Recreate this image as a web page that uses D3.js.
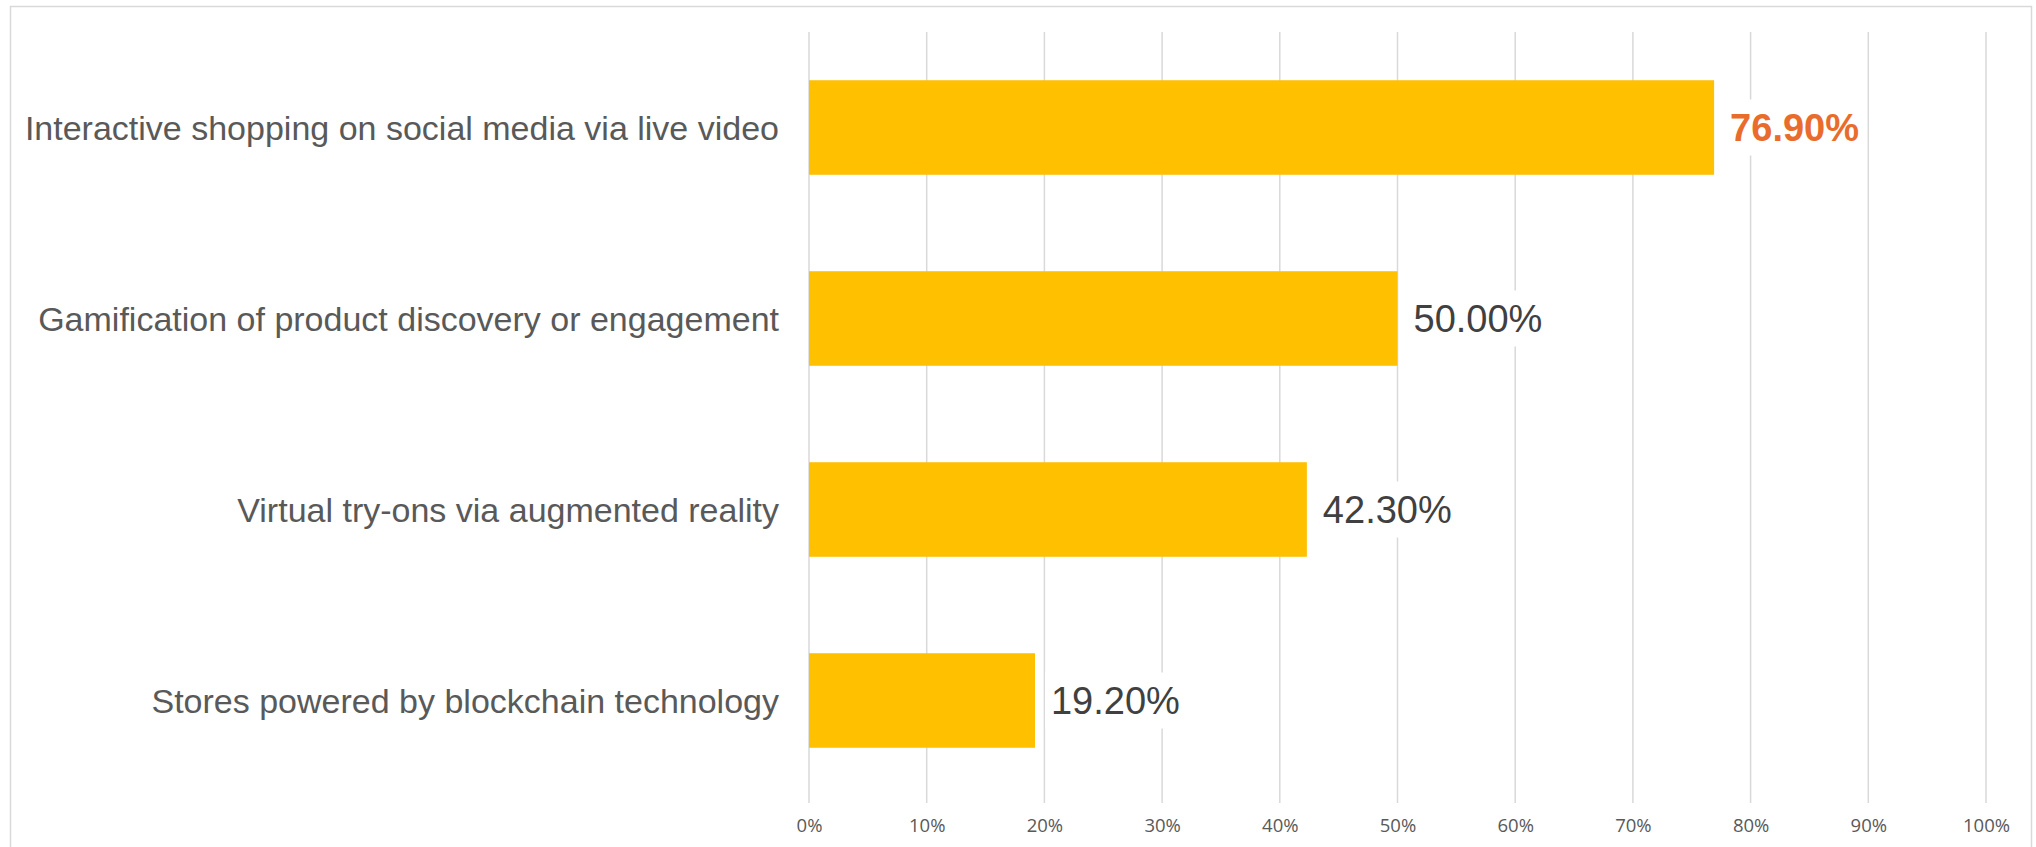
<!DOCTYPE html>
<html>
<head>
<meta charset="utf-8">
<script src="https://cdn.jsdelivr.net/npm/d3@7"></script>
<style>
  html, body { margin: 0; padding: 0; background: #ffffff; }
  svg { display: block; }
</style>
</head>
<body>
<script>
// Categories, top to bottom, and their shares (%)
const categories = [
  "Interactive shopping on social media via live video",
  "Gamification of product discovery or engagement",
  "Virtual try-ons via augmented reality",
  "Stores powered by blockchain technology"
];
const values = [76.9, 50.0, 42.3, 19.2];
const highlighted = [true, false, false, false];
const tickValues = [0, 10, 20, 30, 40, 50, 60, 70, 80, 90, 100];

const W = 2036, H = 847;
const svg = d3.select("body").append("svg")
  .attr("width", W).attr("height", H);

// frame
svg.append("rect")
  .attr("x", 10.5).attr("y", 6.5)
  .attr("width", 2021).attr("height", 850)
  .attr("fill", "#ffffff")
  .attr("stroke", "#d9d9d9").attr("stroke-width", 1.5);

const x = d3.scaleLinear().domain([0, 100]).range([809, 1986]);
const y = d3.scaleBand().domain(categories).range([32, 796]).paddingInner(0.505).paddingOuter(0.2525);

// vertical gridlines
svg.append("g").selectAll("line").data(tickValues).join("line")
  .attr("x1", d => x(d)).attr("x2", d => x(d))
  .attr("y1", 32).attr("y2", 803)
  .attr("stroke", "#d9d9d9").attr("stroke-width", 1.5);

// x-axis tick labels
const xAxis = d3.axisBottom(x).tickValues(tickValues).tickSize(0).tickFormat(d => d + "%");
const gx = svg.append("g").attr("transform", "translate(0,812)").call(xAxis);
gx.select(".domain").remove();
gx.selectAll("text")
  .attr("dy", 0).attr("y", 12)
  .attr("dominant-baseline", "central")
  .style("font-family", "'Open Sans', sans-serif")
  .style("font-size", "18.5px")
  .style("fill", "#595959");

// category labels
const yAxis = d3.axisLeft(y).tickSize(0).tickPadding(0);
const gy = svg.append("g").attr("transform", "translate(779,0)").call(yAxis);
gy.select(".domain").remove();
gy.selectAll("text")
  .attr("dy", 0).attr("x", 0)
  .attr("dominant-baseline", "central")
  .style("font-family", "'Liberation Sans', Arial, sans-serif")
  .style("font-size", "34px")
  .style("fill", "#595959");

// bars
svg.append("g").selectAll("rect").data(categories).join("rect")
  .attr("x", x(0))
  .attr("y", d => y(d))
  .attr("width", (d, i) => x(values[i]) - x(0))
  .attr("height", y.bandwidth())
  .attr("fill", "#FFC000");

// value labels with white backing
const labels = svg.append("g").selectAll("g").data(categories).join("g")
  .attr("transform", (d, i) => `translate(${x(values[i]) + 16},${y(d) + y.bandwidth() / 2})`);

const labelText = labels.append("text")
  .attr("dominant-baseline", "central")
  .style("font-family", "'Liberation Sans', Arial, sans-serif")
  .style("font-size", "38px")
  .style("font-weight", (d, i) => highlighted[i] ? "bold" : "normal")
  .style("fill", (d, i) => highlighted[i] ? "#E96C2C" : "#404040")
  .text((d, i) => values[i].toFixed(2) + "%");

labels.each(function () {
  const g = d3.select(this);
  const bb = g.select("text").node().getBBox();
  g.insert("rect", "text")
    .attr("x", bb.x - 6).attr("y", -28)
    .attr("width", bb.width + 12).attr("height", 56)
    .attr("fill", "#ffffff");
});
</script>
</body>
</html>
